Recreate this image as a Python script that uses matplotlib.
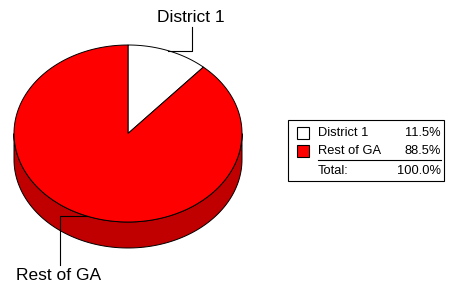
import numpy as np
import matplotlib.pyplot as plt
from matplotlib.patches import Polygon, Rectangle

plt.rcParams['font.family'] = ['Liberation Sans', 'DejaVu Sans']

# Data
labels = ["District 1", "Rest of GA"]
shares = [11.5, 88.5]
colors = ["#FFFFFF", "#FF0000"]
side_colors = ["#CCCCCC", "#C00000"]
total_label = "Total:"
total_value = "100.0%"

# Pie geometry (pixels)
cx, cy = 128, 133.5
rx, ry = 114, 88.5
depth = 26

fig = plt.figure(figsize=(4.5, 2.91), dpi=100)
ax = fig.add_axes([0, 0, 1, 1])
ax.set_xlim(0, 450)
ax.set_ylim(291, 0)
ax.axis("off")


def pt(t, dy=0):
    return cx + rx * np.cos(np.radians(t)), cy - ry * np.sin(np.radians(t)) + dy


# slice angle ranges (clockwise from top)
angles = []
start = 90.0
for s in shares:
    span = s / 100 * 360
    angles.append((start - span, start))
    start -= span

# sides (front half: 180..360)
for (a0, a1), sc in zip(angles, side_colors):
    for off in (-360, 0, 360):
        lo = max(a0 + off, 180)
        hi = min(a1 + off, 360)
        if hi > lo:
            t = np.linspace(lo, hi, 100)
            top = [pt(v) for v in t]
            bot = [pt(v, depth) for v in t[::-1]]
            ax.add_patch(Polygon(top + bot, closed=True, facecolor=sc,
                                 edgecolor="black", linewidth=0.7))

# top faces
for (a0, a1), c in zip(angles, colors):
    t = np.linspace(a0, a1, 200)
    verts = [(cx, cy)] + [pt(v) for v in t]
    ax.add_patch(Polygon(verts, closed=True, facecolor=c,
                         edgecolor="black", linewidth=0.7))

# leader lines and labels
mid0 = np.mean(angles[0])
x0, y0 = pt(mid0)
ax.plot([x0, 192, 192], [y0, y0, 27], color="black", lw=0.8)
ax.text(191, 17, labels[0], fontsize=12.5, ha="center", va="center")

mid1 = np.mean(angles[1])
x1, y1 = pt(mid1)
ax.plot([x1, 60, 60], [y1, y1, 265], color="black", lw=0.8)
ax.text(59, 276, labels[1], fontsize=12.5, ha="center", va="center")

# legend box with a slight shadow
ax.add_patch(Rectangle((289, 121), 156, 61, facecolor="#555555",
                       edgecolor="none"))
ax.add_patch(Rectangle((288, 120), 156, 61, facecolor="white",
                       edgecolor="black", linewidth=0.8))
rows_y = [133, 151]
for y, lab, s, c in zip(rows_y, labels, shares, colors):
    ax.add_patch(Rectangle((297, y - 6), 12, 12, facecolor=c,
                           edgecolor="black", linewidth=0.8))
    ax.text(318, y, lab, fontsize=9.3, va="center", ha="left")
    ax.text(441, y, f"{s:.1f}%", fontsize=9.3, va="center", ha="right")
ax.plot([318, 441], [160, 160], color="black", lw=0.8)
ax.text(318, 170.5, total_label, fontsize=9.3, va="center", ha="left")
ax.text(441, 170.5, total_value, fontsize=9.3, va="center", ha="right")

fig.savefig("out.png", dpi=100)
